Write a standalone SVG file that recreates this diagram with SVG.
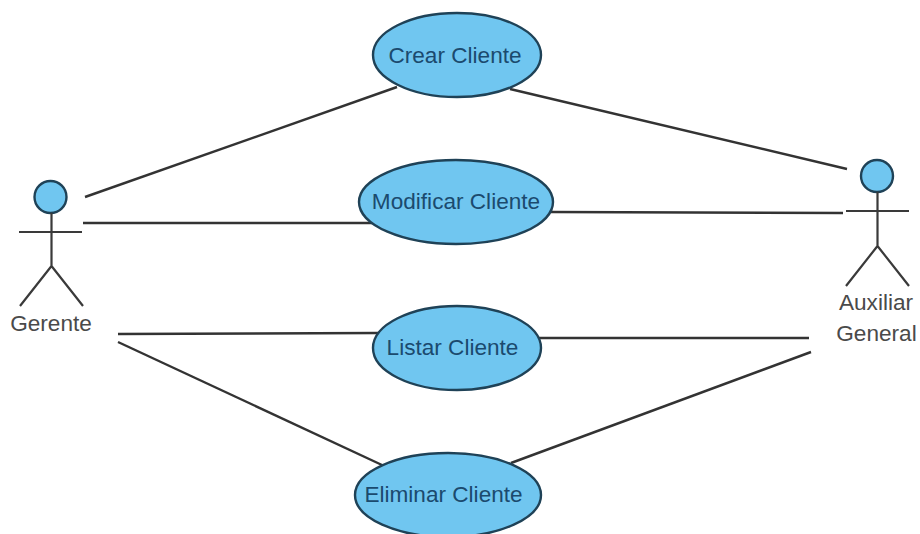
<svg xmlns="http://www.w3.org/2000/svg" width="920" height="534" viewBox="0 0 920 534">
<style>
.u{fill:#70c6f0;stroke:#1f4257;stroke-width:2.4}
.l{fill:none;stroke:#333;stroke-width:2.4}
.a{fill:none;stroke:#3a3a3a;stroke-width:2.2}
text{font-family:"Liberation Sans",Arial,sans-serif;font-size:22.6px;text-anchor:middle}
.t{fill:#1b4a6e}
.n{fill:#4a4a4a}
</style>
<rect width="920" height="534" fill="#fff"/>
<g id="connectors">
<path class="l" d="M85 197L397 87"/>
<path class="l" d="M83 223L372 223"/>
<path class="l" d="M118 334L378 333"/>
<path class="l" d="M118 342L382 465"/>
<path class="l" d="M510 89L847 169"/>
<path class="l" d="M551 212L843 213"/>
<path class="l" d="M538 338L809 338"/>
<path class="l" d="M511 463L811 352"/>
</g>
<g id="crear"><ellipse class="u" cx="457" cy="55" rx="84" ry="42"/><text class="t" x="455" y="63">Crear Cliente</text></g>
<g id="modificar"><ellipse class="u" cx="456" cy="202" rx="97" ry="42"/><text class="t" x="456" y="209">Modificar Cliente</text></g>
<g id="listar"><ellipse class="u" cx="457" cy="348" rx="84" ry="42"/><text class="t" x="452.500" y="355">Listar Cliente</text></g>
<g id="eliminar"><ellipse class="u" cx="448" cy="495" rx="93" ry="42"/><text class="t" x="443.500" y="502">Eliminar Cliente</text></g>
<g id="gerente"><circle class="u" cx="50.500" cy="197" r="16"/><path class="a" d="M51.500 213V266M19 232H82M51.500 266L20 306M51.500 266L83 306"/><text class="n" x="51" y="331">Gerente</text></g>
<g id="auxiliar"><circle class="u" cx="877" cy="176" r="16"/><path class="a" d="M877.500 192V246M846 211H909M877.500 246L846 286M877.500 246L909 286"/><text class="n" x="876" y="310">Auxiliar</text><text class="n" x="876.500" y="341">General</text></g>
</svg>
